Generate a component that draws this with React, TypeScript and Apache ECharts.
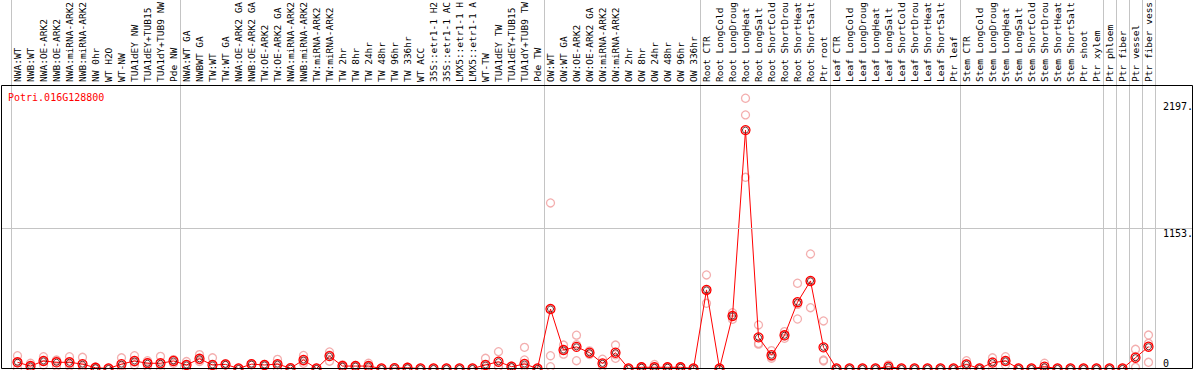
import React, { useEffect, useRef } from 'react';
import * as echarts from 'echarts';

const geneId = 'Potri.016G128800';

const categories = [
  'NWA:WT', 'NWB:WT', 'NWA:OE-ARK2', 'NWB:OE-ARK2', 'NWA:miRNA-ARK2', 'NWB:miRNA-ARK2', 'NW 0hr', 'WT H2O',
  'WT-NW', 'TUA1dEY NW', 'TUA1dEY+TUB15', 'TUA1dY+TUB9 NW', 'Pde NW',
  'NWA:WT GA', 'NWBWT GA', 'TW:WT', 'TW:WT GA', 'NWA:OE-ARK2 GA', 'NWB:OE-ARK2 GA', 'TW:OE-ARK2', 'TW:OE-ARK2 GA',
  'NWA:miRNA-ARK2', 'NWB:miRNA-ARK2', 'TW:miRNA-ARK2', 'TW:miRNA-ARK2', 'TW 2hr', 'TW 8hr', 'TW 24hr', 'TW 48hr',
  'TW 96hr', 'TW 336hr', 'WT ACC', '35S::etr1-1 H2', '35S::etr1-1 AC', 'LMX5::etr1-1 H', 'LMX5::etr1-1 A',
  'WT-TW', 'TUA1dEY TW', 'TUA1dEY+TUB15', 'TUA1dY+TUB9 TW', 'Pde TW',
  'OW:WT', 'OW:WT GA', 'OW:OE-ARK2', 'OW:OE-ARK2 GA', 'OW:miRNA-ARK2', 'OW:miRNA-ARK2', 'OW 2hr', 'OW 8hr',
  'OW 24hr', 'OW 48hr', 'OW 96hr', 'OW 336hr',
  'Root CTR', 'Root LongCold', 'Root LongDroug', 'Root LongHeat', 'Root LongSalt', 'Root ShortCold',
  'Root ShortDrou', 'Root ShortHeat', 'Root ShortSalt', 'Ptr root',
  'Leaf CTR', 'Leaf LongCold', 'Leaf LongDroug', 'Leaf LongHeat', 'Leaf LongSalt', 'Leaf ShortCold',
  'Leaf ShortDrou', 'Leaf ShortHeat', 'Leaf ShortSalt', 'Ptr leaf',
  'Stem CTR', 'Stem LongCold', 'Stem LongDroug', 'Stem LongHeat', 'Stem LongSalt', 'Stem ShortCold',
  'Stem ShortDrou', 'Stem ShortHeat', 'Stem ShortSalt', 'Ptr shoot',
  'Ptr xylem', 'Ptr phloem', 'Ptr fiber', 'Ptr vessel', 'Ptr fiber vess',
];

const meanValues = [
  51, 20, 62, 51, 51, 36, 6, 0, 36, 62, 43, 43, 62,
  29, 80, 29, 34, 0, 36, 29, 36, 3, 70, 0, 102, 20, 20, 20, 0, 3, 6, 0, 0, 0, 0, 0, 29, 56, 15, 37, 0,
  489, 152, 178, 130, 42, 130, 0, 10, 10, 10, 10, 0,
  646, 0, 432, 1960, 256, 109, 273, 545, 720, 174,
  0, 0, 0, 0, 15, 0, 0, 0, 0, 0,
  34, 0, 48, 62, 0, 0, 15, 0, 0, 0,
  0, 0, 0, 89, 179,
];

const replicate1 = [
  105, 43, 97, 70, 97, 92, 12, 0, 88, 105, 64, 100, 70,
  57, 114, 88, 40, 0, 40, 33, 75, 5, 107, 0, 136, 30, 25, 43, 0, 5, 10, 0, 0, 0, 0, 0, 84, 138, 20, 174, 0,
  1361, 193, 274, 145, 76, 193, 0, 15, 33, 10, 15, 0,
  769, 0, 459, 2222, 358, 147, 303, 701, 942, 391,
  0, 0, 0, 0, 30, 0, 0, 0, 0, 0,
  64, 0, 88, 97, 0, 0, 43, 0, 0, 0,
  0, 0, 0, 158, 275,
];

const replicate2 = [
  48, 17, 60, 65, 38, 16, 6, 0, 20, 52, 50, 29, 73,
  30, 70, 0, 34, 0, 36, 29, 33, 3, 60, 0, 110, 20, 20, 17, 0, 3, 8, 0, 0, 0, 0, 0, 3, 15, 15, 70, 0,
  105, 152, 196, 130, 40, 113, 0, 10, 0, 10, 10, 0,
  646, 0, 432, 2085, 207, 96, 268, 527, 718, 70,
  0, 0, 0, 0, 15, 0, 0, 0, 0, 0,
  38, 0, 56, 60, 0, 0, 2, 0, 0, 0,
  0, 0, 0, 99, 207,
];

const replicate3 = [
  0, 0, 29, 18, 18, 0, 0, 0, 0, 29, 15, 0, 43,
  0, 57, 0, 28, 0, 32, 25, 0, 0, 43, 0, 60, 10, 15, 0, 0, 0, 0, 0, 0, 0, 0, 0, 0, 15, 10, 15, 0,
  15, 118, 64, 115, 16, 84, 0, 5, 0, 10, 5, 0,
  536, 0, 405, 1572, 200, 84, 248, 407, 500, 62,
  0, 0, 0, 0, 0, 0, 0, 0, 0, 0,
  0, 0, 0, 29, 0, 0, 0, 0, 0, 0,
  0, 0, 0, 10, 51,
];

const separatorIndices = [0, 13, 41, 53, 63, 73, 84, 85, 86, 87];
const yLabelValues = [1153, 2197];
const zeroLabelValues = [0];
const referenceLineValue = 1153;
const Y_MAX = 2331;

export default function App() {
  const ref = useRef<HTMLDivElement>(null);

  useEffect(() => {
    document.body.style.margin = '0';
    const chart = echarts.init(ref.current as HTMLDivElement, null, { renderer: 'svg' });
    const mono = 'DejaVu Sans Mono';
    const sepSet = new Set(separatorIndices);
    const splitLine = {
      show: true,
      interval: (i: number) => sepSet.has(i),
      lineStyle: { color: '#c4c4c4', width: 1, type: 'solid' },
    };
    const pale = '#f09a9a';
    const repSeries = [replicate1, replicate2, replicate3].map((d) => ({
      type: 'scatter',
      xAxisIndex: 1,
      yAxisIndex: 1,
      data: d,
      symbol: 'circle',
      symbolSize: 8,
      itemStyle: { color: 'rgba(0,0,0,0)', borderColor: pale, borderWidth: 1.3 },
      z: 2,
      silent: true,
    }));

    const option: any = {
      animation: false,
      backgroundColor: '#ffffff',
      title: {
        text: geneId,
        left: 8,
        top: 92,
        padding: 0,
        textStyle: { color: '#ff0000', fontFamily: mono, fontSize: 10, fontWeight: 'normal' },
      },
      grid: [
        { left: 11, right: 39, top: 0, height: 85, outerBoundsMode: 'none' },
        { left: 11, right: 39, top: 85, bottom: 1.5, outerBoundsMode: 'none' },
        { left: 1, right: 2, top: 85, bottom: 1.5, outerBoundsMode: 'none' },
      ],
      xAxis: [
        {
          gridIndex: 0, type: 'category', data: categories, boundaryGap: true,
          axisLine: { show: false }, axisTick: { show: false }, axisLabel: { show: false }, splitLine,
        },
        {
          gridIndex: 1, type: 'category', data: categories, boundaryGap: true, position: 'top',
          axisLine: { show: false }, axisTick: { show: false },
          axisLabel: { interval: 0, rotate: 90, margin: 3, fontFamily: mono, fontSize: 9.5, color: '#000' },
          splitLine,
        },
        { gridIndex: 2, type: 'value', min: 0, max: 1, show: false },
      ],
      yAxis: [
        { gridIndex: 0, type: 'value', show: false },
        {
          gridIndex: 1, type: 'value', min: 0, max: Y_MAX, position: 'right',
          axisLine: { show: false }, axisTick: { show: false }, splitLine: { show: false },
          axisLabel: {
            customValues: yLabelValues, formatter: (v: number) => v + '.', margin: 8, align: 'left',
            verticalAlign: 'top', fontFamily: mono, fontSize: 10, color: '#000',
          },
        },
        {
          gridIndex: 1, type: 'value', min: 0, max: Y_MAX, position: 'right',
          axisLine: { show: false }, axisTick: { show: false }, splitLine: { show: false },
          axisLabel: {
            customValues: zeroLabelValues, formatter: (v: number) => String(v), margin: 8, align: 'left',
            verticalAlign: 'bottom', fontFamily: mono, fontSize: 10, color: '#000',
          },
        },
        { gridIndex: 2, type: 'value', min: 0, max: Y_MAX, show: false },
      ],
      graphic: [
        {
          type: 'rect',
          shape: { x: 1.5, y: 85.5, width: 1191, height: 283 },
          style: { fill: 'none', stroke: '#000', lineWidth: 1 },
          z: 100,
          silent: true,
        },
      ],
      series: [
        {
          type: 'line',
          xAxisIndex: 2,
          yAxisIndex: 3,
          data: [],
          markLine: {
            silent: true,
            symbol: 'none',
            label: { show: false },
            lineStyle: { color: '#c4c4c4', width: 1, type: 'solid' },
            data: [{ yAxis: referenceLineValue }],
          },
        },
        ...repSeries,
        {
          type: 'line',
          xAxisIndex: 1,
          yAxisIndex: 1,
          data: meanValues,
          symbol: 'circle',
          symbolSize: 9,
          showAllSymbol: true,
          lineStyle: { color: '#ff0000', width: 1 },
          itemStyle: { color: 'rgba(0,0,0,0)', borderColor: '#ff0000', borderWidth: 1.3 },
          z: 3,
          silent: true,
        },
        {
          type: 'scatter',
          xAxisIndex: 1,
          yAxisIndex: 1,
          data: meanValues,
          symbol: 'circle',
          symbolSize: 6,
          itemStyle: { color: 'rgba(0,0,0,0)', borderColor: '#400000', borderWidth: 1 },
          z: 4,
          silent: true,
        },
      ],
    };
    chart.setOption(option);
    return () => chart.dispose();
  }, []);

  return <div ref={ref} style={{ width: 1194, height: 370 }} />;
}
